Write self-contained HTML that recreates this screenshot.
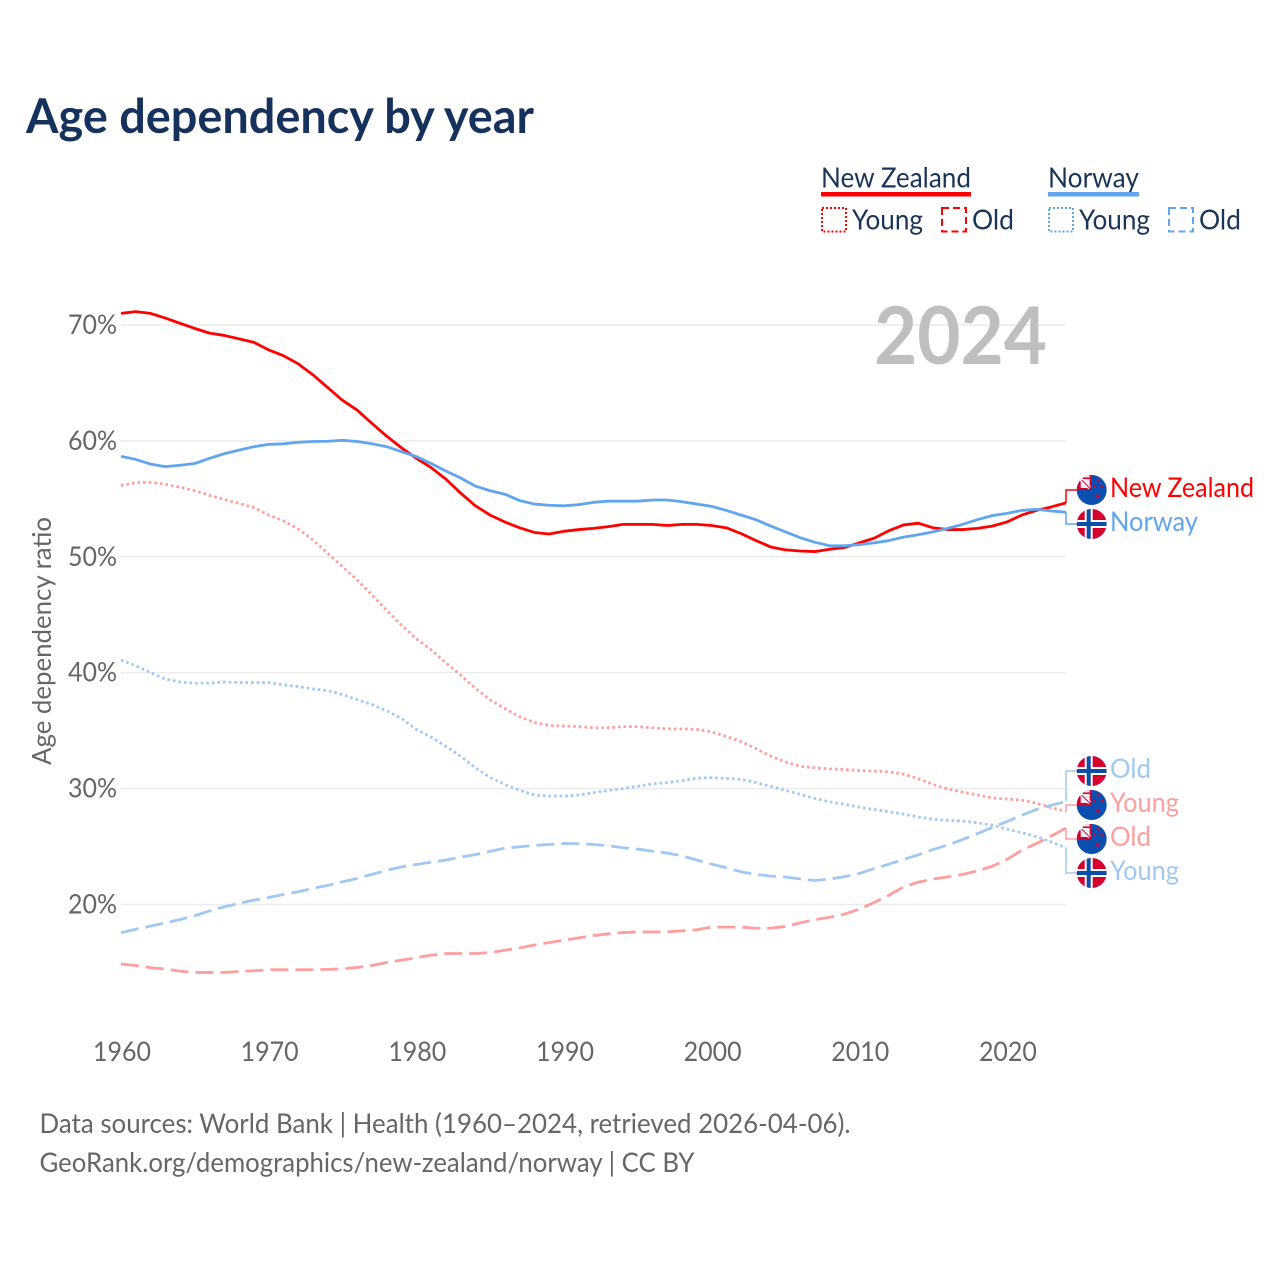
<!DOCTYPE html>
<html lang="en">
<head>
<meta charset="utf-8">
<title>Age dependency by year</title>
<style>
html,body{margin:0;padding:0;background:#fff}
svg{display:block}
text{font-family:"Lato","Carlito","Liberation Sans",sans-serif}
</style>
</head>
<body>
<svg id="chart" xmlns="http://www.w3.org/2000/svg" width="1280" height="1280" viewBox="0 0 1280 1280">
  <defs>
    <clipPath id="flag-clip"><circle cx="0" cy="0" r="15"/></clipPath>
    <symbol id="flag-no" overflow="visible">
      <g clip-path="url(#flag-clip)">
        <rect x="-15" y="-15" width="30" height="30" fill="#d6002f"/>
        <rect x="-15" y="-4" width="30" height="8" fill="#fff"/>
        <rect x="-7" y="-15" width="8" height="30" fill="#fff"/>
        <rect x="-15" y="-2" width="30" height="4" fill="#0a4ea8"/>
        <rect x="-5" y="-15" width="4" height="30" fill="#0a4ea8"/>
      </g>
    </symbol>
    <symbol id="flag-nz" overflow="visible">
      <g clip-path="url(#flag-clip)">
        <rect x="-15" y="-15" width="30" height="30" fill="#0a4fb0"/>
        <rect x="-15" y="-15" width="15" height="15" fill="#d6002f"/>
        <rect x="-11" y="-11" width="9" height="9" fill="#e6e8f2"/>
        <path d="M-11-11L-2-2" stroke="#fff" stroke-width="3.5"/>
        <path d="M-10-10L-2-2" stroke="#d6002f" stroke-width="1"/>
        <rect x="-15" y="-15" width="13" height="2.5" fill="#e8e8f0"/>
        <circle cx="7" cy="-10" r="1.3" fill="#d6002f"/>
        <circle cx="10" cy="-4" r="1.3" fill="#d6002f"/>
        <circle cx="3" cy="-4" r="1.3" fill="#d6002f"/>
        <circle cx="6" cy="6" r="1.6" fill="#d6002f"/>
      </g>
    </symbol>
  </defs>

  <text x="26" y="133" font-size="47.5" font-weight="700" fill="#16325c" textLength="508" lengthAdjust="spacingAndGlyphs">Age dependency by year</text>

  <g>
    <text x="821" y="187.5" font-size="28" fill="#1a3557" textLength="150" lengthAdjust="spacingAndGlyphs">New Zealand</text>
    <rect x="821" y="192" width="150" height="4.5" fill="#ff0000"/>
    <rect x="822" y="208" width="24" height="23.5" fill="none" stroke="#ff0000" stroke-width="2" stroke-dasharray="2 2"/>
    <text x="852" y="229.5" font-size="28" fill="#1a3557" textLength="71" lengthAdjust="spacingAndGlyphs">Young</text>
    <rect x="942" y="208" width="24" height="23.5" fill="none" stroke="#ff0000" stroke-width="2" stroke-dasharray="7 4"/>
    <text x="972" y="229.5" font-size="28" fill="#1a3557" textLength="42" lengthAdjust="spacingAndGlyphs">Old</text>

    <text x="1048" y="187.5" font-size="28" fill="#1a3557" textLength="91" lengthAdjust="spacingAndGlyphs">Norway</text>
    <rect x="1048" y="192" width="91" height="4.5" fill="#60a5ee"/>
    <rect x="1049" y="208" width="24" height="23.5" fill="none" stroke="#60a5ee" stroke-width="2" stroke-dasharray="2 2"/>
    <text x="1079" y="229.5" font-size="28" fill="#1a3557" textLength="71" lengthAdjust="spacingAndGlyphs">Young</text>
    <rect x="1169" y="208" width="24" height="23.5" fill="none" stroke="#60a5ee" stroke-width="2" stroke-dasharray="7 4"/>
    <text x="1199" y="229.5" font-size="28" fill="#1a3557" textLength="42" lengthAdjust="spacingAndGlyphs">Old</text>
  </g>

  <g id="grid"></g>
  <text x="1047" y="364" font-size="80" font-weight="700" fill="#bfbfbf" text-anchor="end" textLength="173" lengthAdjust="spacingAndGlyphs">2024</text>
  <g id="yticks"></g>
  <g id="xticks"></g>
  <text transform="translate(51,641) rotate(-90)" font-size="26" fill="#666" text-anchor="middle" textLength="248" lengthAdjust="spacingAndGlyphs">Age dependency ratio</text>
  <g id="series"></g>
  <g id="labels"></g>

  <text x="39.5" y="1133" font-size="27" fill="#666" textLength="811" lengthAdjust="spacingAndGlyphs">Data sources: World Bank | Health (1960–2024, retrieved 2026-04-06).</text>
  <text x="39.5" y="1172" font-size="27" fill="#666" textLength="655" lengthAdjust="spacingAndGlyphs">GeoRank.org/demographics/new-zealand/norway | CC BY</text>
</svg>

<script>
const years = [1960,1961,1962,1963,1964,1965,1966,1967,1968,1969,1970,1971,1972,1973,1974,1975,1976,1977,1978,1979,1980,1981,1982,1983,1984,1985,1986,1987,1988,1989,1990,1991,1992,1993,1994,1995,1996,1997,1998,1999,2000,2001,2002,2003,2004,2005,2006,2007,2008,2009,2010,2011,2012,2013,2014,2015,2016,2017,2018,2019,2020,2021,2022,2023,2024];
const xTickLabels = [1960,1970,1980,1990,2000,2010,2020];
const yTickValues = [70,60,50,40,30,20];
const nzTotal = [71.0,71.15,71.0,70.6,70.15,69.7,69.3,69.1,68.8,68.5,67.85,67.35,66.65,65.7,64.6,63.5,62.65,61.5,60.4,59.4,58.5,57.7,56.7,55.5,54.4,53.6,53.0,52.5,52.1,51.97,52.2,52.35,52.45,52.6,52.8,52.8,52.8,52.7,52.8,52.8,52.7,52.5,52.0,51.4,50.85,50.6,50.5,50.45,50.65,50.8,51.2,51.6,52.25,52.75,52.9,52.5,52.35,52.35,52.45,52.65,53.0,53.6,54.0,54.3,54.65];
const noTotal = [58.67,58.4,58.0,57.78,57.9,58.05,58.5,58.9,59.2,59.5,59.7,59.75,59.88,59.95,59.97,60.05,59.95,59.75,59.5,59.07,58.65,58.05,57.4,56.8,56.1,55.7,55.4,54.85,54.55,54.45,54.4,54.5,54.7,54.8,54.8,54.8,54.9,54.9,54.75,54.55,54.35,54.0,53.6,53.2,52.65,52.15,51.65,51.25,50.95,50.95,51.05,51.2,51.4,51.7,51.9,52.15,52.45,52.8,53.2,53.55,53.75,54.0,54.1,53.95,53.85];
const nzYoung = [56.15,56.4,56.43,56.25,56.0,55.7,55.3,54.95,54.6,54.25,53.6,53.1,52.4,51.45,50.3,49.15,48.0,46.7,45.37,44.1,42.93,41.98,40.85,39.8,38.65,37.65,36.9,36.2,35.7,35.45,35.4,35.35,35.25,35.25,35.35,35.35,35.25,35.15,35.15,35.1,34.9,34.5,34.05,33.45,32.8,32.3,31.93,31.8,31.7,31.65,31.55,31.52,31.45,31.25,30.85,30.35,29.97,29.7,29.45,29.2,29.1,29.0,28.75,28.35,28.05];
const nzOld = [14.86,14.74,14.54,14.43,14.25,14.14,14.14,14.14,14.22,14.28,14.37,14.37,14.37,14.37,14.4,14.45,14.57,14.74,15.0,15.2,15.4,15.63,15.77,15.77,15.77,15.85,16.05,16.26,16.5,16.72,16.92,17.12,17.32,17.47,17.58,17.64,17.64,17.64,17.73,17.82,18.05,18.05,18.05,17.95,17.96,18.1,18.42,18.7,18.9,19.17,19.6,20.17,20.8,21.52,21.93,22.2,22.38,22.6,22.9,23.3,23.88,24.68,25.26,25.9,26.6];
const noYoung = [41.1,40.6,40.0,39.45,39.2,39.1,39.1,39.2,39.15,39.15,39.15,38.95,38.8,38.6,38.45,38.13,37.67,37.25,36.7,36.05,35.1,34.45,33.65,32.8,31.8,30.95,30.35,29.85,29.45,29.35,29.35,29.45,29.65,29.85,30.0,30.2,30.4,30.53,30.68,30.9,30.95,30.88,30.8,30.52,30.2,29.85,29.5,29.15,28.85,28.65,28.4,28.2,28.0,27.8,27.55,27.35,27.25,27.2,27.05,26.85,26.5,26.2,25.85,25.4,24.9];
const noOld = [17.56,17.87,18.13,18.42,18.7,19.03,19.45,19.8,20.1,20.37,20.6,20.86,21.1,21.4,21.65,21.95,22.25,22.6,22.95,23.25,23.45,23.65,23.83,24.1,24.3,24.58,24.86,24.98,25.1,25.18,25.27,25.24,25.18,25.07,24.9,24.78,24.6,24.43,24.2,23.83,23.48,23.17,22.82,22.6,22.45,22.37,22.2,22.07,22.2,22.4,22.67,23.1,23.48,23.88,24.28,24.74,25.14,25.6,26.12,26.64,27.16,27.7,28.2,28.56,28.9];

const NS = 'http://www.w3.org/2000/svg';
function xScale(year) { return 121 + (year - 1960) * (945 / 64); }
function yScale(v) { return 325 + (70 - v) * 11.59; }
function make(tag, attrs, parent) {
  const el = document.createElementNS(NS, tag);
  for (const k in attrs) el.setAttribute(k, attrs[k]);
  parent.appendChild(el);
  return el;
}
const gridG = document.getElementById('grid');
const yG = document.getElementById('yticks');
const xG = document.getElementById('xticks');
const seriesG = document.getElementById('series');
const labelsG = document.getElementById('labels');

yTickValues.forEach(function (v) {
  const line = make('line', {x1: 121, x2: 1066, y1: yScale(v), y2: yScale(v), stroke: '#ececec', 'stroke-width': 1.5}, gridG);
  
  
  const t = make('text', {x: 117, y: yScale(v) + 9, 'font-size': 27, fill: '#666', 'text-anchor': 'end', textLength: 49, lengthAdjust: 'spacingAndGlyphs'}, yG);
  t.textContent = v + '%';
  
  
});

xTickLabels.forEach(function (yr) {
  const t = make('text', {x: xScale(yr) + 1, y: 1061, 'font-size': 27, fill: '#666', 'text-anchor': 'middle', textLength: 58, lengthAdjust: 'spacingAndGlyphs'}, xG);
  t.textContent = yr;
  
  
});

function drawLine(name, values, color, width, dash) {
  const d = values.map(function (v, i) {
    return (i ? 'L' : 'M') + xScale(years[i]).toFixed(2) + ' ' + yScale(v).toFixed(2);
  }).join('');
  const attrs = {d: d, fill: 'none', stroke: color, 'stroke-width': width, 'stroke-linejoin': 'round'};
  if (dash) attrs['stroke-dasharray'] = dash;
  const p = make('path', attrs, seriesG);
  
  
}
const RED = '#ff0000', BLUE = '#60a5ee', LRED = '#ff9e9e', LBLUE = '#a0c8f3';
drawLine('line-norway-young', noYoung, LBLUE, 2.8, '2.6 3');
drawLine('line-new-zealand-young', nzYoung, LRED, 2.8, '2.6 3');
drawLine('line-norway-old', noOld, LBLUE, 2.8, '18 7');
drawLine('line-new-zealand-old', nzOld, LRED, 2.8, '18 7');
drawLine('line-new-zealand-total', nzTotal, RED, 2.8, '');
drawLine('line-norway-total', noTotal, BLUE, 2.8, '');

function drawEnd(name, text, values, color, flag, labelY, width) {
  const endY = yScale(values[values.length - 1]);
  const leader = make('path', {d: 'M1066 ' + endY.toFixed(1) + 'V' + labelY + 'H1077', fill: 'none', stroke: color, 'stroke-width': 1.5}, labelsG);
  
  
  const u = make('use', {href: '#' + flag, x: 1091.7, y: labelY}, labelsG);
  
  
  const t = make('text', {x: 1110, y: labelY + 7, 'font-size': 27, fill: color, textLength: width, lengthAdjust: 'spacingAndGlyphs'}, labelsG);
  t.textContent = text;
  
  
}
drawEnd('end-new-zealand-total', 'New Zealand', nzTotal, RED, 'flag-nz', 490, 144);
drawEnd('end-norway-total', 'Norway', noTotal, BLUE, 'flag-no', 524, 88);
drawEnd('end-norway-old', 'Old', noOld, LBLUE, 'flag-no', 771, 41);
drawEnd('end-new-zealand-young', 'Young', nzYoung, LRED, 'flag-nz', 805, 69);
drawEnd('end-new-zealand-old', 'Old', nzOld, LRED, 'flag-nz', 839, 41);
drawEnd('end-norway-young', 'Young', noYoung, LBLUE, 'flag-no', 873, 69);
</script>
</body>
</html>
